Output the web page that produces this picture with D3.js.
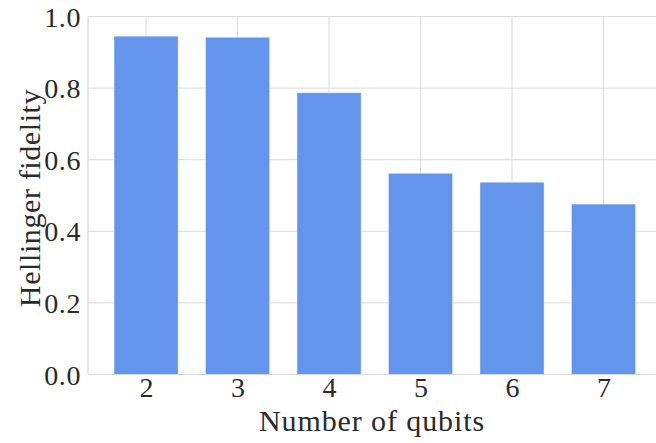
<!DOCTYPE html>
<html>
<head>
<meta charset="utf-8">
<script src="https://cdn.jsdelivr.net/npm/d3@7"></script>
<style>
  html, body { margin: 0; padding: 0; background: #fff; }
  svg { display: block; }
  text { font-family: "Liberation Serif", "DejaVu Serif", serif; fill: #2a2a2a; }
</style>
</head>
<body>
<svg id="chart" width="656" height="443"></svg>
<script>
// Hellinger fidelity per circuit width
const qubits = [2, 3, 4, 5, 6, 7];
const fidelity = [0.945, 0.942, 0.787, 0.562, 0.537, 0.476];
const yTicks = [0.0, 0.2, 0.4, 0.6, 0.8, 1.0];
const barWidth = 0.7;

const svg = d3.select("#chart");
const plotLeft = 88, plotTop = 16.5, plotBottom = 374.5;
const xMin = 2 - barWidth / 2, xMax = 7 + barWidth / 2;
const pad = (xMax - xMin) * 0.05;

const x = d3.scaleLinear().domain([xMin - pad, xMax + pad]).range([plotLeft, 661.6]);
const y = d3.scaleLinear().domain([0, 1]).range([plotBottom, plotTop]);

// grid lines
const grid = svg.append("g");
grid.selectAll("line.h").data(yTicks).join("line")
  .attr("x1", plotLeft).attr("x2", 656)
  .attr("y1", d => y(d)).attr("y2", d => y(d))
  .attr("stroke", "#dadada").attr("stroke-width", 1);
grid.selectAll("line.v").data(qubits).join("line")
  .attr("x1", d => x(d)).attr("x2", d => x(d))
  .attr("y1", plotTop).attr("y2", plotBottom)
  .attr("stroke", "#dadada").attr("stroke-width", 1);

// bars
svg.append("g").selectAll("rect").data(qubits).join("rect")
  .attr("x", d => x(d - barWidth / 2))
  .attr("width", d => x(d + barWidth / 2) - x(d - barWidth / 2))
  .attr("y", (d, i) => y(fidelity[i]))
  .attr("height", (d, i) => y(0) - y(fidelity[i]))
  .attr("fill", "#6495ED")
  .attr("stroke", "#ffffff").attr("stroke-opacity", 0.45).attr("stroke-width", 0.8);

// spines
svg.append("line").attr("x1", plotLeft).attr("x2", plotLeft).attr("y1", plotTop).attr("y2", plotBottom)
  .attr("stroke", "#d6d6d6").attr("stroke-width", 1.2);
svg.append("line").attr("x1", plotLeft).attr("x2", 656).attr("y1", plotBottom).attr("y2", plotBottom)
  .attr("stroke", "#d6d6d6").attr("stroke-width", 1.2);

// axes
const yAxis = svg.append("g").attr("transform", `translate(${plotLeft},0)`)
  .call(d3.axisLeft(y).tickValues(yTicks).tickFormat(d3.format(".1f")).tickSize(0).tickPadding(7));
yAxis.select(".domain").remove();
yAxis.selectAll("text").style("font-size", "28px").style("letter-spacing", "0.6px")
  .attr("dy", "0.34em").attr("fill", "#2a2a2a");

const xAxis = svg.append("g").attr("transform", `translate(0,${plotBottom})`)
  .call(d3.axisBottom(x).tickValues(qubits).tickFormat(d3.format("d")).tickSize(0).tickPadding(3));
xAxis.select(".domain").remove();
xAxis.selectAll("text").style("font-size", "28px").attr("dy", "0.71em").attr("fill", "#2a2a2a");

// axis titles
svg.append("text").attr("x", 372).attr("y", 431).attr("text-anchor", "middle")
  .style("font-size", "30px").style("letter-spacing", "0.9px").text("Number of qubits");
svg.append("text").attr("transform", "translate(40,198) rotate(-90)").attr("text-anchor", "middle")
  .style("font-size", "30px").style("letter-spacing", "0.6px").text("Hellinger fidelity");
</script>
</body>
</html>
